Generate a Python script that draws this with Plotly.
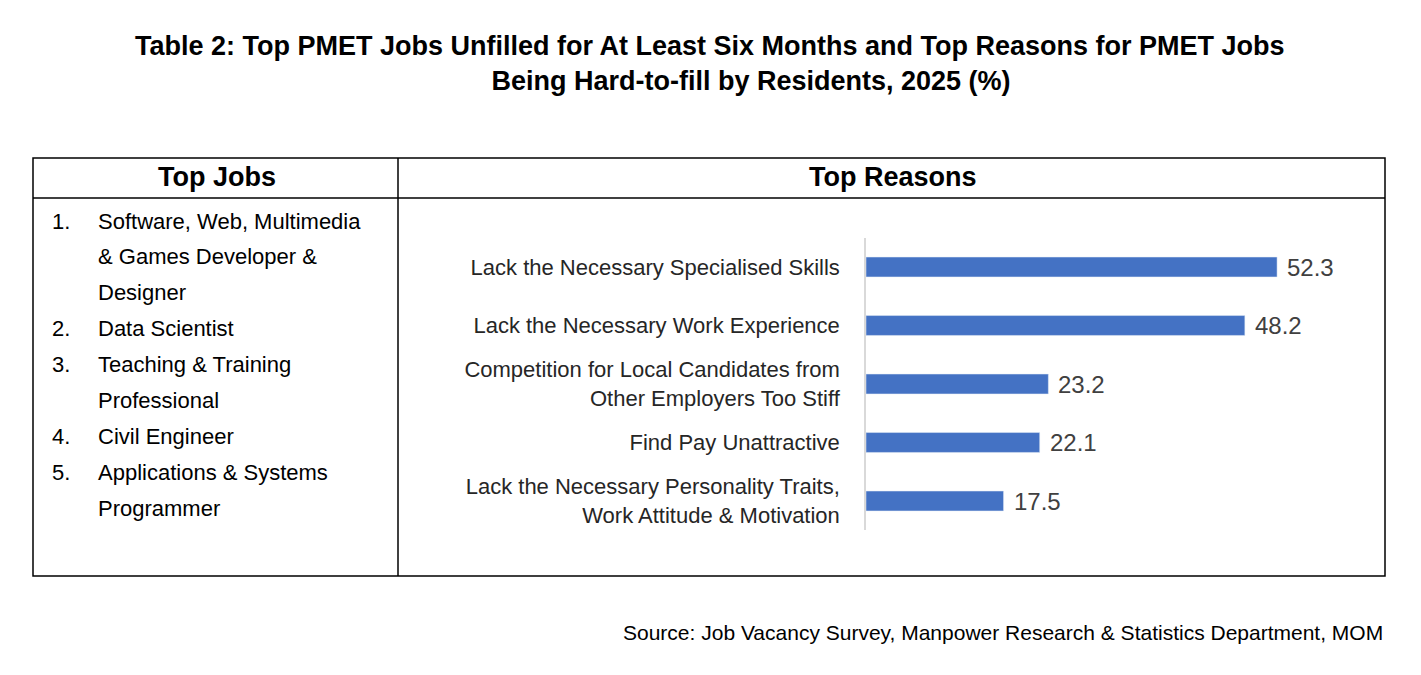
import plotly.graph_objects as go

W, H = 1421, 675
OFF = 8  # page body margin shifts the figure

reasons = ["Lack the Necessary Specialised Skills",
           "Lack the Necessary Work Experience",
           "Competition for Local Candidates from<br>Other Employers Too Stiff",
           "Find Pay Unattractive",
           "Lack the Necessary Personality Traits,<br>Work Attitude & Motivation"]
shares = [52.3, 48.2, 23.2, 22.1, 17.5]

job_numbers = ["1.", "", "", "2.", "3.", "", "4.", "5.", ""]
job_lines = ["Software, Web, Multimedia", "& Games Developer &", "Designer",
             "Data Scientist", "Teaching & Training", "Professional",
             "Civil Engineer", "Applications & Systems", "Programmer"]


def px(x):
    return (x - OFF) / W


def py(y):
    return 1 - (y - OFF) / H


font = "Liberation Sans, Arial, sans-serif"

fig = go.Figure(go.Bar(
    x=shares, y=reasons, orientation="h", marker_color="#4472C4", width=0.34,
    hoverinfo="x+y",
))

shapes = [
    dict(type="rect", x0=px(33), x1=px(1385), y0=py(158), y1=py(576),
         line=dict(color="black", width=1.5)),
    dict(type="line", x0=px(33), x1=px(1385), y0=py(198), y1=py(198),
         line=dict(color="black", width=1.5)),
    dict(type="line", x0=px(398), x1=px(398), y0=py(158), y1=py(576),
         line=dict(color="black", width=1.5)),
]
for s in shapes:
    s.update(xref="paper", yref="paper")

ann = [
    dict(x=px(710), y=py(64), text="<b>Table 2: Top PMET Jobs Unfilled for At Least Six Months and Top Reasons for PMET Jobs<br>"
         "<span style='padding-left:0'>           Being Hard-to-fill by Residents, 2025 (%)</span></b>",
         font=dict(size=27, color="black"), align="center", xanchor="center", yanchor="middle"),
    dict(x=px(217), y=py(177), text="<b>Top Jobs</b>", font=dict(size=27, color="black"),
         xanchor="center", yanchor="middle"),
    dict(x=px(893), y=py(177), text="<b>Top Reasons</b>", font=dict(size=27, color="black"),
         xanchor="center", yanchor="middle"),
    dict(x=px(1385), y=py(632), text="Source: Job Vacancy Survey, Manpower Research & Statistics Department, MOM",
         font=dict(size=21, color="black"), xanchor="right", yanchor="middle"),
]
for i, (n, t) in enumerate(zip(job_numbers, job_lines)):
    yy = py(221 + i * 35.9)
    if n:
        ann.append(dict(x=px(50), y=yy, text=n, font=dict(size=22, color="black"),
                        xanchor="left", yanchor="middle"))
    ann.append(dict(x=px(96), y=yy, text=t, font=dict(size=22, color="black"),
                    xanchor="left", yanchor="middle"))
for a in ann:
    a.update(xref="paper", yref="paper", showarrow=False)

for v, r in zip(shares, reasons):
    ann.append(dict(x=v, y=r, xref="x", yref="y", text=f"{v:.1f}", showarrow=False,
                    xanchor="left", xshift=8, font=dict(size=24, color="#404040")))

fig.update_layout(
    width=W, height=H, margin=dict(l=0, r=0, t=0, b=0),
    paper_bgcolor="white", plot_bgcolor="white", font=dict(family=font),
    showlegend=False, shapes=shapes, annotations=ann,
    xaxis=dict(domain=[px(866), px(1385)], range=[0, 519 / 7.86], visible=False),
    yaxis=dict(domain=[py(530.25), py(237.75)], autorange="reversed",
               showline=True, linecolor="#d9d9d9", linewidth=1.5, ticks="",
               ticklabelstandoff=20, tickfont=dict(size=22, color="#262626")),
)

fig.write_html("out.html")
